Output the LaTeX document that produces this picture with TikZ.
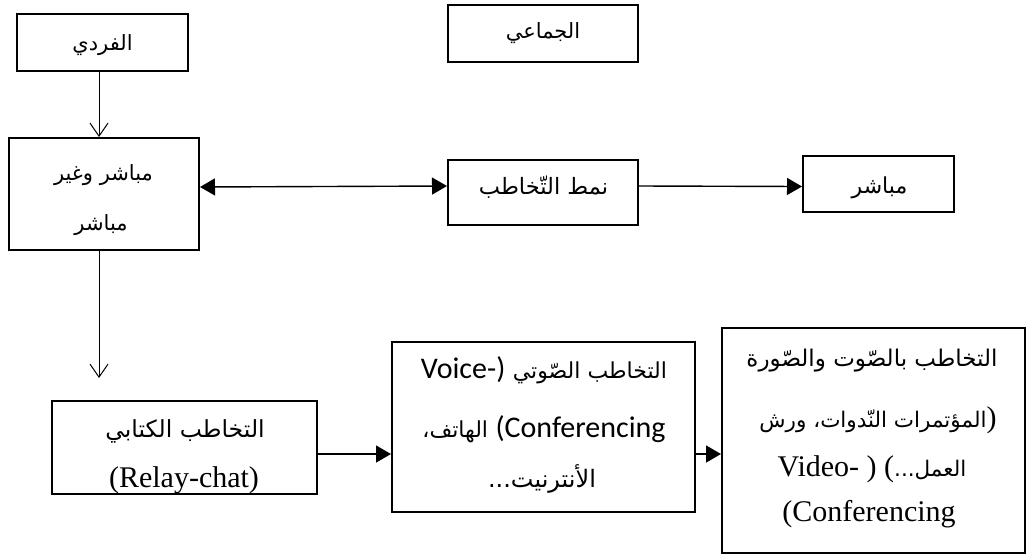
\documentclass[tikz,border=0pt]{standalone}
\usepackage{fontspec}
\setmainfont{Liberation Serif}
\newfontfamily\arabicfont[Script=Arabic]{DejaVu Sans}
\newfontfamily\latinsans{Carlito}
\TeXXeTstate=1
\usetikzlibrary{arrows.meta}
% Arabic run at a given size, set right to left
\newcommand\AR[2][21]{{\arabicfont\fontsize{#1}{#1}\selectfont\beginR #2\endR}}

\begin{document}
\begin{tikzpicture}[x=1pt,y=-1pt,
  box/.style={draw, line width=2pt, inner sep=0pt},
  txt/.style={anchor=base, inner sep=0pt, font=\fontsize{30}{36}\selectfont},
  vline/.style={line width=1pt, -{Straight Barb[length=13pt,width=18pt]}},
  hline/.style={line width=1.4pt, -{Triangle[length=15pt,width=17pt]}},
  hboth/.style={line width=1.4pt, {Triangle[length=15pt,width=17pt]}-{Triangle[length=15pt,width=17pt]}}]
\useasboundingbox (0,0) rectangle (1027,555);

% boxes
\node[box, minimum width=171pt, minimum height=57pt]  (fard)    at (102.5,42.5) {};
\node[box, minimum width=190pt, minimum height=57pt]  (jamai)   at (543,33.5) {};
\node[box, minimum width=190pt, minimum height=112pt] (mixed)   at (104,194) {};
\node[box, minimum width=190pt, minimum height=65pt]  (namat)   at (543,192.5) {};
\node[box, minimum width=151pt, minimum height=56pt]  (direct)  at (878.5,184) {};
\node[box, minimum width=265pt, minimum height=93pt]  (written) at (184.5,447.5) {};
\node[box, minimum width=303pt, minimum height=170pt] (voice)   at (543.5,427) {};
\node[box, minimum width=303pt, minimum height=225pt] (video)   at (873.5,440.5) {};

% labels
\node[txt] (fardT)    at (102.5,50) {\AR{الفردي}};
\node[txt] (jamaiT)   at (543,38)   {\AR{الجماعي}};
\node[txt] (mixedA)   at (103.5,180) {\AR{مباشر وغير}};
\node[txt] (mixedB)   at (101,230)  {\AR{مباشر}};
\node[txt] (namatT)   at (543.5,194) {\AR[22.5]{نمط التّخاطب}};
\node[txt] (directT)  at (879.5,193) {\AR[22]{مباشر}};
\node[txt] (writtenA) at (185,437)  {\AR[23.5]{التخاطب الكتابي}};
\node[txt] (writtenB) at (184,487)  {(Relay-chat)};
\node[txt] (voiceA)   at (544,378)  {{\latinsans Voice-)}\ \AR[22]{التخاطب الصّوتي}};
\node[txt] (voiceB)   at (544,437)  {\AR[22]{الهاتف،} {\latinsans (Conferencing}};
\node[txt] (voiceC)   at (542,487)  {\AR[24]{الأنترنيت...}};
\node[txt] (videoA)   at (872,366)  {\AR[23]{التخاطب بالصّوت والصّورة}};
\node[txt] (videoB)   at (878,427)  {\AR[21.5]{المؤتمرات النّدوات، ورش})};
\node[txt] (videoC)   at (872,476)  {Video- ) (\AR[21.5]{العمل...}};
\node[txt] (videoD)   at (869,521)  {(Conferencing};

% connectors
\coordinate (drop) at (99,378);
\draw[vline] ([xshift=-3.5pt]fard.south) -- ([xshift=-5pt]mixed.north);
\draw[vline] ([xshift=-5pt]mixed.south) -- (drop);
\draw[hboth] ([yshift=7pt]mixed.east) -- ([yshift=6.5pt]namat.west);
\draw[hline] ([yshift=6.5pt]namat.east) -- ([yshift=-2.5pt]direct.west);
\draw[hline] ([yshift=-6.5pt]written.east) -- ([yshift=-27pt]voice.west);
\draw[hline] ([yshift=-27pt]voice.east) -- ([yshift=-13.5pt]video.west);
\end{tikzpicture}
\end{document}
